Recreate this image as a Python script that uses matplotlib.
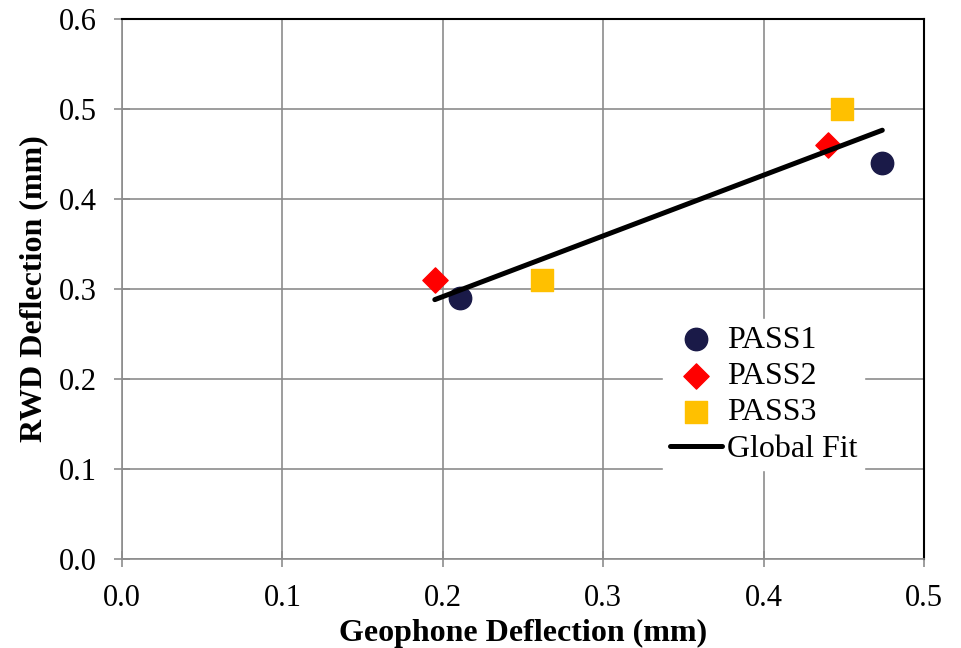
import numpy as np
import matplotlib.pyplot as plt

plt.rcParams['font.family'] = ['Liberation Serif', 'DejaVu Serif']

# Datos
pass1_x = [0.211, 0.474]
pass1_y = [0.29, 0.44]
pass2_x = [0.195, 0.440]
pass2_y = [0.31, 0.46]
pass3_x = [0.262, 0.449]
pass3_y = [0.31, 0.50]

x_ticks = [0.0, 0.1, 0.2, 0.3, 0.4, 0.5]
y_ticks = [0.0, 0.1, 0.2, 0.3, 0.4, 0.5, 0.6]

# Ajuste global con todos los puntos
todos_x = np.array(pass1_x + pass2_x + pass3_x)
todos_y = np.array(pass1_y + pass2_y + pass3_y)
pendiente, ordenada = np.polyfit(todos_x, todos_y, 1)
fit_x = np.array([todos_x.min(), todos_x.max()])
fit_y = pendiente * fit_x + ordenada

fig = plt.figure(figsize=(9.61, 6.48), dpi=100)
ax = fig.add_axes([0.127, 0.1373, 0.8345, 0.8334])

ax.grid(True, color='#8c8c8c', linewidth=1.2, zorder=0)
ax.set_axisbelow(True)

ax.scatter(pass1_x, pass1_y, s=260, marker='o', color='#1a1a48', label='PASS1', zorder=3)
ax.scatter(pass2_x, pass2_y, s=165, marker='D', color='#ff0000', label='PASS2', zorder=3)
ax.scatter(pass3_x, pass3_y, s=270, marker='s', color='#ffc000', label='PASS3', zorder=3)
ax.plot(fit_x, fit_y, color='black', linewidth=3.6, solid_capstyle='round',
        label='Global Fit', zorder=4)

ax.set_xlim(0, 0.5)
ax.set_ylim(0, 0.6)
ax.set_xticks(x_ticks)
ax.set_yticks(y_ticks)
ax.set_xticklabels([f'{v:.1f}' for v in x_ticks])
ax.set_yticklabels([f'{v:.1f}' for v in y_ticks])
ax.tick_params(direction='inout', length=12, width=1.2, color='#8c8c8c',
               labelsize=22)
ax.tick_params(axis='y', pad=12)
ax.tick_params(axis='x', pad=12)

for lado in ['left', 'bottom']:
    ax.spines[lado].set_color('#8c8c8c')
    ax.spines[lado].set_linewidth(1.2)
for lado in ['top', 'right']:
    ax.spines[lado].set_color('black')
    ax.spines[lado].set_linewidth(1.5)

ax.set_xlabel('Geophone Deflection (mm)', fontsize=23, fontweight='bold', labelpad=4)
ax.set_ylabel('RWD Deflection (mm)', fontsize=23, fontweight='bold', labelpad=8)

ax.legend(loc='lower right', bbox_to_anchor=(0.945, 0.135), frameon=True,
          framealpha=1, edgecolor='white', fancybox=False, fontsize=23,
          handlelength=1.65, handletextpad=0.15, labelspacing=0.22,
          borderpad=0.2)

fig.savefig('out.png', dpi=100)
